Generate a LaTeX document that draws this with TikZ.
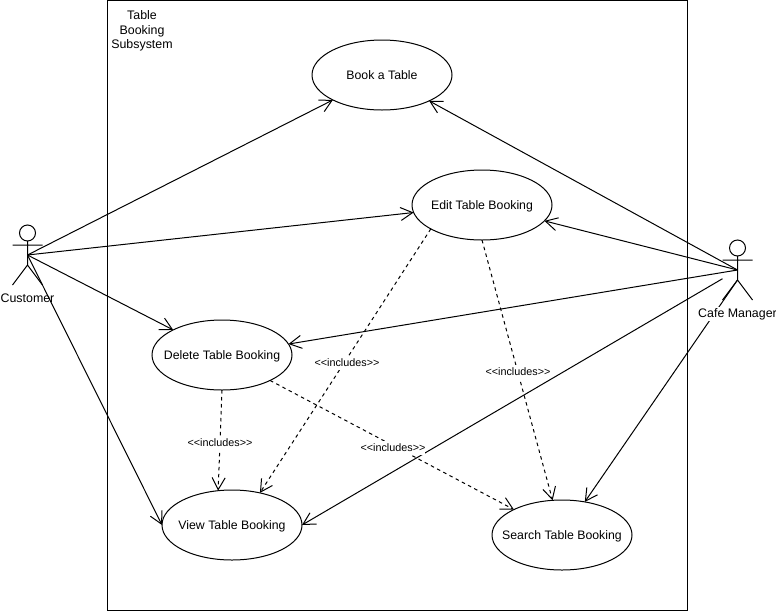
\documentclass[tikz,border=0pt]{standalone}
\usepackage{fontspec}
\setmainfont{Liberation Sans}
\usetikzlibrary{shapes.geometric,arrows.meta}
\newcommand{\uctext}[1]{\raisebox{-4.6pt}[0pt][0pt]{\makebox[0pt][c]{#1}}}
\tikzset{
  uc/.style={draw=black,fill=white,ellipse,minimum width=140pt,minimum height=70pt,inner sep=0pt,outer sep=0pt,line width=1pt,font=\fontsize{12.3}{14}\selectfont},
  assoc/.style={draw=black,line width=1pt,-{Straight Barb[length=12pt,width=13pt,line width=1pt]}},
  incl/.style={assoc,dash pattern=on 3.5pt off 3.5pt},
  lab/.style={fill=white,inner sep=0pt,minimum height=14pt,font=\fontsize{10.8}{12}\selectfont},
  txt/.style={inner sep=0pt,font=\fontsize{12.4}{14.5}\selectfont},
  actorline/.style={draw=black,line width=1pt},
  headc/.style={draw=black,circle,minimum size=16pt,inner sep=0pt,outer sep=0pt,line width=1pt}
}
\begin{document}
\begin{tikzpicture}[x=1pt,y=-1pt]
\useasboundingbox (0,0) rectangle (776,611);
\node[draw=black,line width=1pt,minimum width=580pt,minimum height=610pt,inner sep=0pt,outer sep=0pt] (frame) at (397.5,305.5) {};
\node[txt,align=center] (title) at (142,31) {Table\\Booking\\Subsystem};
\node[uc] (book) at (382,75) {\uctext{Book a Table}};
\node[uc] (edit) at (482,205) {\uctext{Edit Table Booking}};
\node[uc] (del) at (222,355) {\uctext{Delete Table Booking}};
\node[uc] (view) at (232,525) {\uctext{View Table Booking}};
\node[uc] (search) at (562,535) {\uctext{Search Table Booking}};
% actors
\node[headc] (chead) at (27.5,233) {};
\coordinate (cust) at (27.5,255);
\coordinate (chip) at (27.5,265);
\coordinate (cl) at (12.5,245);
\coordinate (cr) at (42.5,245);
\coordinate (cfl) at (12.5,285);
\coordinate (cfr) at (42.5,285);
\draw[actorline] (chead.south) -- (chip) (cl) -- (cr) (cfl) -- (chip) -- (cfr);
\node[headc] (mhead) at (737.5,248) {};
\coordinate (mgr) at (737.5,270);
\coordinate (mhip) at (737.5,280);
\coordinate (ml) at (722.5,260);
\coordinate (mr) at (752.5,260);
\coordinate (mfl) at (722.5,300);
\coordinate (mfr) at (752.5,300);
\coordinate (mgrv) at (722.5,278.7);
\draw[actorline] (mhead.south) -- (mhip) (ml) -- (mr) (mfl) -- (mhip) -- (mfr);
% associations
\draw[assoc] (cust) -- (book);
\draw[assoc] (cust) -- (edit);
\draw[assoc] (cust) -- (del);
\draw[assoc] (cust) -- (view.west);
\draw[assoc] (mgr) -- (book);
\draw[assoc] (mgr) -- (edit);
\draw[assoc] (mgr) -- (del);
\draw[assoc] (mgrv) -- (view.east);
\draw[assoc] (mhip) -- (search);
% includes
\draw[incl] (edit.205) -- (view.49);
\draw[incl] (edit.south) -- (search);
\draw[incl] (del.south) -- (view.112);
\draw[incl] (del) -- (search);
% labels
\node[lab] (l1) at (347,362.5) {<{}<includes>{}>};
\node[lab] (l2) at (518,372) {<{}<includes>{}>};
\node[lab] (l3) at (220,443) {<{}<includes>{}>};
\node[lab] (l4) at (393,448) {<{}<includes>{}>};
\node[txt] (custlab) at (27.5,298.5) {Customer};
\node[txt,fill=white,minimum height=14pt] (mgrlab) at (737.5,314) {Cafe Manager};
\end{tikzpicture}
\end{document}
